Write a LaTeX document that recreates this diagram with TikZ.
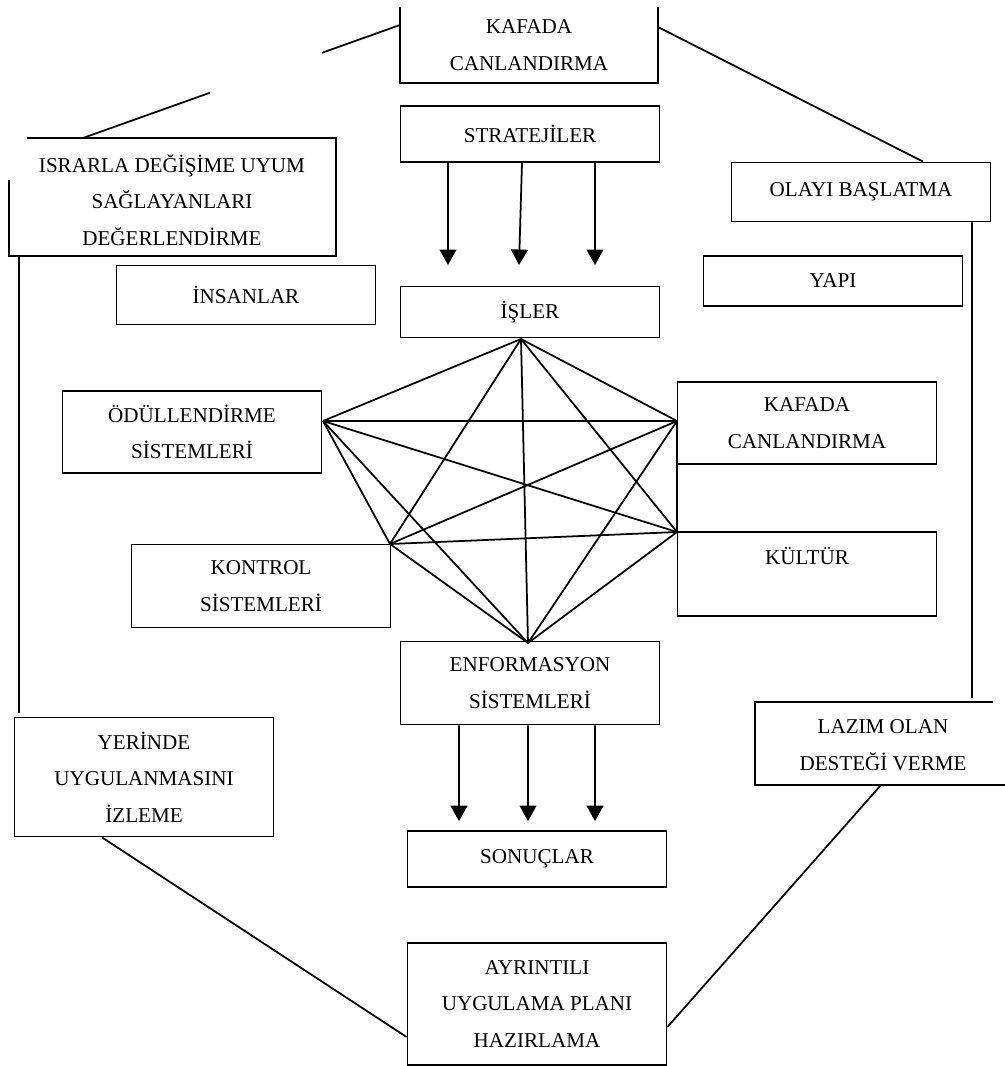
\documentclass[tikz,border=0pt]{standalone}
\usepackage{fontspec}
\setmainfont{Liberation Serif}
\usetikzlibrary{arrows.meta,calc}

\begin{document}
\begin{tikzpicture}[
			x=0.025cm, y=-0.025cm,
			line width=1.25pt,
			kutu/.style={draw, minimum width=6.475cm, inner sep=0pt, align=center,
				font=\fontsize{15}{26}\selectfont},
			yazi/.style={inner sep=0pt, align=center, font=\fontsize{15}{26}\selectfont},
			ok/.style={-{Triangle[width=12pt,length=11pt]}}
			]
			\useasboundingbox (0,0) rectangle (1005,1066);
			
			% Boxes with an open side
			\node[yazi] (kafadaUst) at (529,45) {KAFADA\\CANLANDIRMA};
			\draw (400,7) -- (400,83) -- (658,83) -- (658,7);
			\node[yazi] (israrla) at (172,200) {ISRARLA DEĞİŞİME UYUM\\SAĞLAYANLARI\\DEĞERLENDİRME};
			\draw (27,138) -- (336,138) -- (336,256) -- (9,256) -- (9,180);
			\node[yazi] (lazim) at (883,745) {LAZIM OLAN\\DESTEĞİ VERME};
			\draw (993,702) -- (755,702) -- (755,785) -- (1005,785);
			
			% Closed boxes
			\node[kutu, minimum height=1.4cm] (strateji) at (530,134) {STRATEJİLER};
			\node[kutu, minimum height=1.275cm] (isler) at (530,312) {İŞLER};
			\node[kutu, minimum height=1.475cm] (insanlar) at (246,295) {İNSANLAR};
			\node[kutu, minimum height=1.475cm] (olayi) at (861,192) {OLAYI BAŞLATMA};
			\node[kutu, minimum height=1.25cm] (yapi) at (833,281) {YAPI};
			\node[kutu, minimum height=2.05cm] (odul) at (192,432) {ÖDÜLLENDİRME\\SİSTEMLERİ};
			\node[kutu, minimum height=2.05cm] (kafadaSag) at (807,423) {KAFADA\\CANLANDIRMA};
			\node[kutu, minimum height=2.075cm] (kontrol) at (261,586) {KONTROL\\SİSTEMLERİ};
			\node[kutu, minimum height=2.1cm] (kultur) at (807,574) {KÜLTÜR\\~};
			\node[kutu, minimum height=2.075cm] (enform) at (530,683) {ENFORMASYON\\SİSTEMLERİ};
			\node[kutu, minimum height=1.4cm] (sonuc) at (537,859) {SONUÇLAR};
			\node[kutu, minimum height=2.975cm] (yerinde) at (144,777) {YERİNDE\\UYGULANMASINI\\İZLEME};
			\node[kutu, minimum height=3.05cm] (ayrinti) at (537,1004) {AYRINTILI\\UYGULAMA PLANI\\HAZIRLAMA};
			
			% Free ends of the outer connectors
			\coordinate (ust1) at (400,25);
			\coordinate (ust2) at (658,27);
			\coordinate (isr1) at (83,138);
			\coordinate (isr2) at (19,256);
			\coordinate (yer1) at (19,713);
			\coordinate (laz1) at (972,698);
			\coordinate (laz2) at (881,785);
			
			% Outer ring
			\draw (ust1) -- ($(ust1)!0.246!(isr1)$);
			\draw ($(ust1)!0.6!(isr1)$) -- (isr1);
			\draw (ust2) -- ([xshift=1.55cm]olayi.north);
			\draw ([xshift=2.775cm]olayi.south) -- (laz1);
			\draw (laz2) -- ([yshift=-0.575cm]ayrinti.east);
			\draw ([xshift=-1.05cm]yerinde.south) -- ([yshift=-0.825cm]ayrinti.west);
			\draw (isr2) -- (yer1);
			
			% Arrows
			\draw[ok] ([xshift=-2.05cm]strateji.south) -- (448,265);
			\draw[ok] ([xshift=-0.2cm]strateji.south) -- (519,265);
			\draw[ok] ([xshift=1.625cm]strateji.south) -- (595,265);
			\draw[ok] ([xshift=-1.775cm]enform.south) -- (459,821);
			\draw[ok] ([xshift=-0.05cm]enform.south) -- (528,821);
			\draw[ok] ([xshift=1.625cm]enform.south) -- (595,821);
			
			% Six corners of the star, every pair joined
			\coordinate (y1) at (521,339);
			\coordinate (y2) at (323,421);
			\coordinate (y3) at (677,421);
			\coordinate (y4) at (390,544);
			\coordinate (y5) at (677,532);
			\coordinate (y6) at (528,643);
			\foreach \i in {1,...,5}
			{
				\pgfmathtruncatemacro\k{\i+1}
				\foreach \j in {\k,...,6}
				\draw (y\i) -- (y\j);
			}
		\end{tikzpicture}
\end{document}
